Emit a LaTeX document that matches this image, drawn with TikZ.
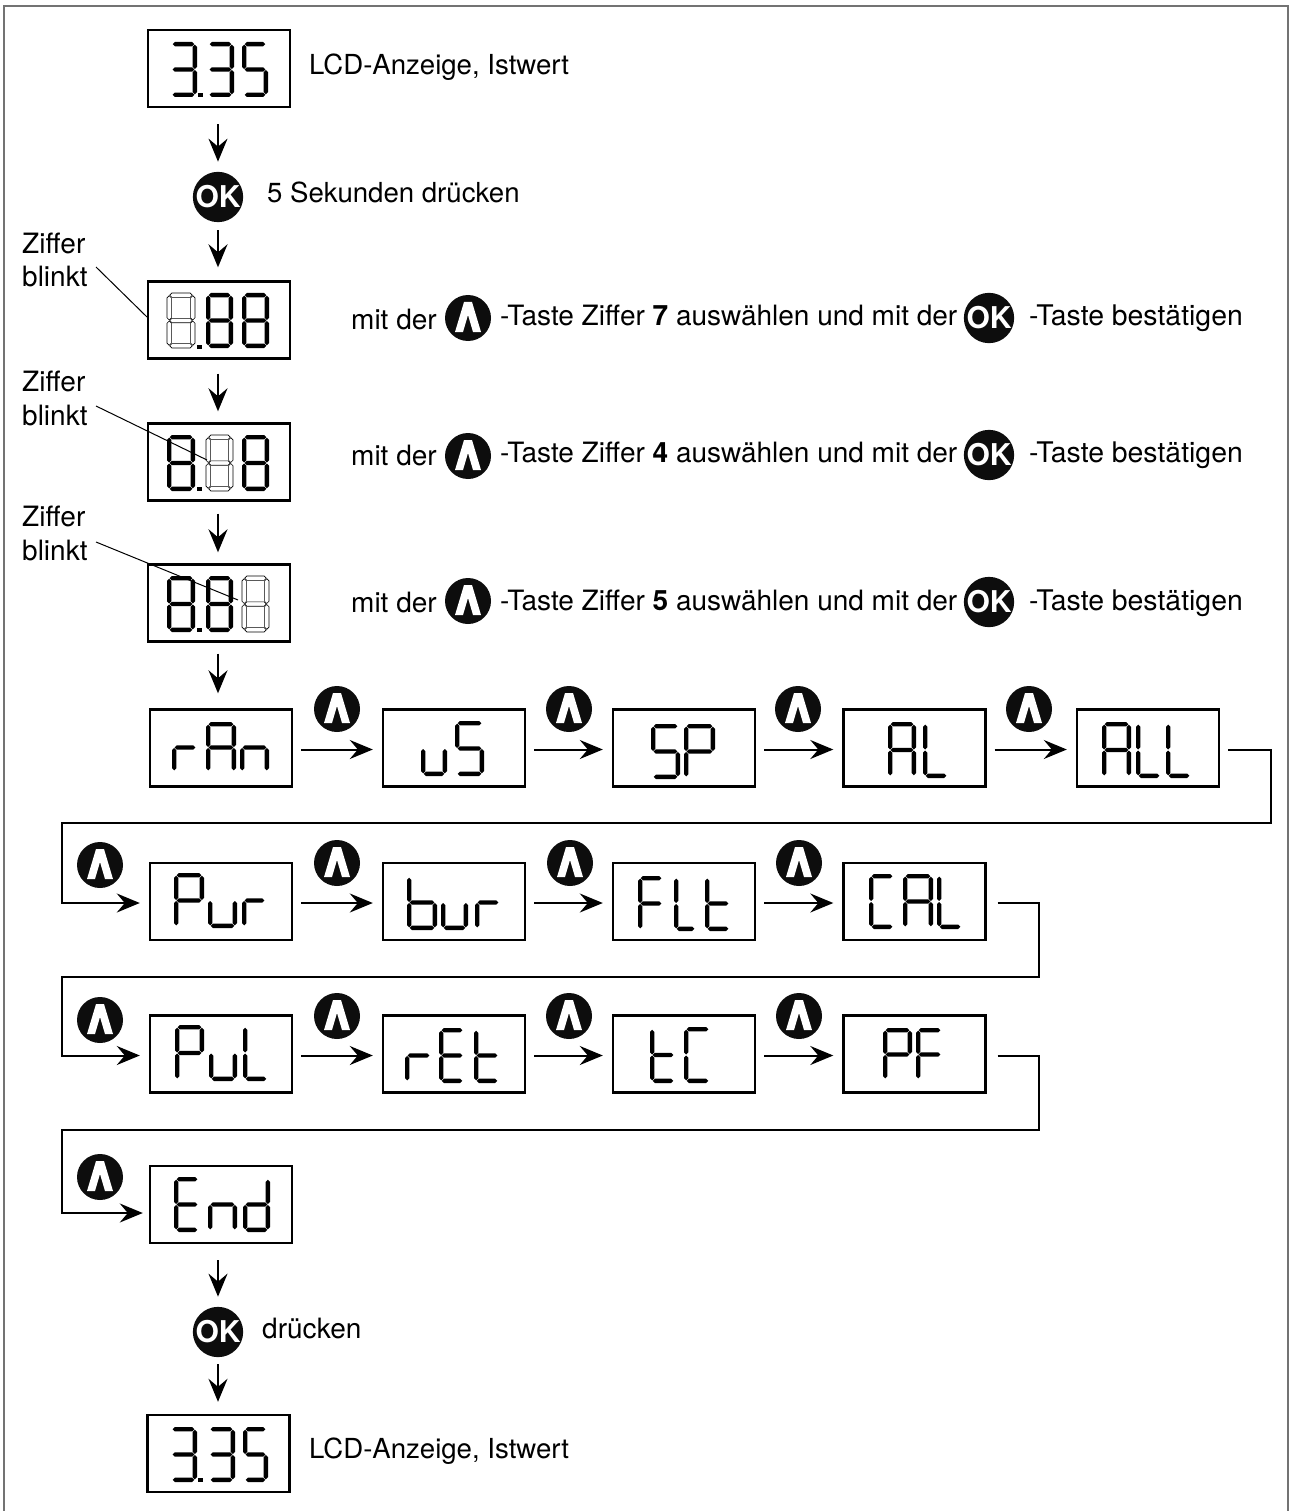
\documentclass[tikz,border=0pt]{standalone}
\usepackage{fontspec}
\setmainfont{TeX Gyre Heros}
\usetikzlibrary{arrows.meta}
\tikzset{
  lcdbox/.style={draw, line width=2.4pt, minimum width=142pt, minimum height=77pt, inner sep=0pt},
  lcdon/.style={fill=black},
  lcdoff/.style={draw=black, line width=0.6pt, fill=white},
  flow/.style={line width=2pt, -{Stealth[length=23pt,width=19pt,inset=8pt]}},
  leader/.style={line width=1pt},
  label/.style={inner sep=0pt, anchor=base west, font=\fontsize{28}{33.5}\selectfont},
  narrowlabel/.style={label, font=\fontsize{27.6}{33}\selectfont},
  widelabel/.style={label, font=\fontsize{28.4}{33}\selectfont},
  upkey/.style={circle, fill=black!95, minimum size=46pt, inner sep=0pt, path picture={
    \fill[white] ([shift={(-4,-16)}]path picture bounding box.center) -- ++(8,0) -- ++(9,30) -- ++(-8,0)
      -- ++(-5,-17) -- ++(-5,17) -- ++(-8,0) -- cycle;}},
  okkey/.style={circle, fill=black!95, text=white, minimum size=49pt, inner sep=0pt,
    font=\fontsize{30}{30}\selectfont\bfseries},
}
% one tapered segment of the display
\newcommand{\lcdsegh}[1]{\path (0.5,{#1}) -- (2.7,{#1-2.2}) -- ({\lcdw-2.7},{#1-2.2}) -- ({\lcdw-0.5},{#1})
  -- ({\lcdw-2.7},{#1+2.2}) -- (2.7,{#1+2.2}) -- cycle;}
\newcommand{\lcdsegv}[3]{\path ({#1},{#2+0.5}) -- ({#1+2.2},{#2+2.7}) -- ({#1+2.2},{#3-2.7}) -- ({#1},{#3-0.5})
  -- ({#1-2.2},{#3-2.7}) -- ({#1-2.2},{#2+2.7}) -- cycle;}
\newcommand{\lcdsega}{\lcdsegh{0}}
\newcommand{\lcdsegb}{\lcdsegv{\lcdw}{0}{\lcdh}}
\newcommand{\lcdsegc}{\lcdsegv{\lcdw}{\lcdh}{2*\lcdh}}
\newcommand{\lcdsegd}{\lcdsegh{2*\lcdh}}
\newcommand{\lcdsege}{\lcdsegv{0}{\lcdh}{2*\lcdh}}
\newcommand{\lcdsegf}{\lcdsegv{0}{0}{\lcdh}}
\newcommand{\lcdsegg}{\lcdsegh{\lcdh}}
% [style]{left}{right}{top}{bottom}{segments}
\newcommand{\lcdchar}[6][lcdon]{%
  \begin{scope}[shift={({#2+2.2},{#4+2.2})}, every path/.style={#1}]
    \pgfmathsetmacro\lcdw{#3-#2-4.4}
    \pgfmathsetmacro\lcdh{(#5-#4-4.4)/2}
    \foreach \s in {#6} {\csname lcdseg\s\endcsname}
  \end{scope}}
\newcommand{\lcddot}[2]{\fill (#1,#2) rectangle ++(5,4);}
\begin{document}
\begin{tikzpicture}[x=1pt, y=-1pt]
  \useasboundingbox (0,0) rectangle (1290,1511);
  \draw[line width=1.2pt, black!55] (4,1511) |- (1288,6) -- (1288,1511);

  % input sequence
  \node[lcdbox] (istA) at (219,68.5) {};
  \node[okkey] (okA) at (218,197) {OK};
  \node[lcdbox] (blinkA) at (219,320) {};
  \node[lcdbox] (blinkB) at (219,462) {};
  \node[lcdbox] (blinkC) at (219,603) {};
  \lcdchar{170}{197}{42}{97}{a,b,g,c,d}
  \lcddot{198}{93}
  \lcdchar{207}{234}{42}{97}{a,b,g,c,d}
  \lcdchar{242}{268}{42}{97}{a,f,g,c,d}
  \lcdchar[lcdoff]{167}{195}{293}{348}{a,b,c,d,e,f,g}
  \lcddot{197}{345}
  \lcdchar{206}{233}{293}{348}{a,b,c,d,e,f,g}
  \lcdchar{242}{269}{293}{348}{a,b,c,d,e,f,g}
  \lcdchar{167}{195}{435}{491}{a,b,c,d,e,f,g}
  \lcddot{197}{487}
  \lcdchar[lcdoff]{206}{233}{435}{491}{a,b,c,d,e,f,g}
  \lcdchar{242}{269}{435}{491}{a,b,c,d,e,f,g}
  \lcdchar{167}{195}{576}{632}{a,b,c,d,e,f,g}
  \lcddot{197}{628}
  \lcdchar{206}{233}{576}{632}{a,b,c,d,e,f,g}
  \lcdchar[lcdoff]{242}{269}{576}{632}{a,b,c,d,e,f,g}

  % menu, row one
  \node[lcdbox] (ran) at (221,748) {};
  \node[lcdbox] (us) at (454,748) {};
  \node[lcdbox] (sp) at (684,748) {};
  \node[lcdbox] (al) at (914.5,748) {};
  \node[lcdbox] (all) at (1148,748) {};
  \lcdchar{172}{198}{722}{773}{e,g}
  \lcdchar{206}{236}{722}{773}{a,b,c,e,f,g}
  \lcdchar{240}{269}{722}{773}{e,g,c}
  \lcdchar{421}{447}{721}{776}{e,d,c}
  \lcdchar{455}{484}{721}{776}{a,f,g,c,d}
  \lcdchar{651}{680}{724}{779}{a,f,g,c,d}
  \lcdchar{684}{715}{724}{779}{a,b,f,g,e}
  \lcdchar{888}{916}{722}{778}{a,b,c,e,f,g}
  \lcdchar{923}{949}{722}{778}{f,e,d}
  \lcdchar{1102}{1131}{722}{778}{a,b,c,e,f,g}
  \lcdchar{1136}{1162}{722}{778}{f,e,d}
  \lcdchar{1166}{1192}{722}{778}{f,e,d}

  % menu, row two
  \node[lcdbox] (pur) at (221,901.5) {};
  \node[lcdbox] (bur) at (454,901.5) {};
  \node[lcdbox] (flt) at (684,901.5) {};
  \node[lcdbox] (cal) at (914.5,901.5) {};
  \lcdchar{174}{204}{873}{928}{a,b,f,g,e}
  \lcdchar{208}{237}{873}{928}{e,d,c}
  \lcdchar{242}{267}{873}{928}{e,g}
  \lcdchar{407}{437}{875}{930}{f,e,d,c,g}
  \lcdchar{441}{468}{875}{930}{e,d,c}
  \lcdchar{475}{501}{875}{930}{e,g}
  \lcdchar{638}{664}{876}{931}{a,f,g,e}
  \lcdchar{674}{697}{876}{931}{f,e,d}
  \lcdchar{705}{731}{876}{931}{f,e,d,g}
  \lcdchar{869}{895}{874}{929}{a,f,e,d}
  \lcdchar{903}{933}{874}{929}{a,b,c,e,f,g}
  \lcdchar{937}{963}{874}{929}{f,e,d}

  % menu, row three
  \node[lcdbox] (pul) at (221,1054) {};
  \node[lcdbox] (ret) at (454,1054) {};
  \node[lcdbox] (tc) at (684,1054) {};
  \node[lcdbox] (pf) at (914.5,1054) {};
  \lcdchar{175}{204}{1025}{1081}{a,b,f,g,e}
  \lcdchar{209}{237}{1025}{1081}{e,d,c}
  \lcdchar{243}{269}{1025}{1081}{f,e,d}
  \lcdchar{405}{432}{1028}{1083}{e,g}
  \lcdchar{439}{465}{1028}{1083}{a,f,g,e,d}
  \lcdchar{474}{500}{1028}{1083}{f,e,d,g}
  \lcdchar{650}{676}{1027}{1083}{f,e,d,g}
  \lcdchar{684}{711}{1027}{1083}{a,f,e,d}
  \lcdchar{883}{912}{1028}{1081}{a,b,f,g,e}
  \lcdchar{916}{943}{1028}{1081}{a,f,g,e}

  % end of the menu
  \node[lcdbox] (end) at (221,1204.5) {};
  \node[okkey] (okB) at (218,1332) {OK};
  \node[lcdbox] (istB) at (218.5,1453.5) {};
  \lcdchar{174}{200}{1177}{1232}{a,f,g,e,d}
  \lcdchar{208}{237}{1177}{1232}{e,g,c}
  \lcdchar{243}{270}{1177}{1232}{b,c,d,e,g}
  \lcdchar{170}{197}{1427}{1482}{a,b,g,c,d}
  \lcddot{198}{1478}
  \lcdchar{208}{235}{1427}{1482}{a,b,g,c,d}
  \lcdchar{243}{268}{1427}{1482}{a,f,g,c,d}

  % keys
  \foreach \x/\y/\n in {337/709/upA, 569/709/upB, 798/709/upC, 1029/709/upD,
    100/865/upE, 337/863/upF, 570/863/upG, 799/863/upH,
    100/1020/upI, 337/1016/upJ, 569/1016/upK, 799/1016/upL, 100/1177/upM,
    468/318/upN, 468/456/upO, 468/601/upP}
    \node[upkey] (\n) at (\x,\y) {};
  \node[okkey] (okC) at (989,318) {OK};
  \node[okkey] (okD) at (989,455) {OK};
  \node[okkey] (okE) at (989,602) {OK};

  % vertical arrows
  \draw[flow, shorten <=16pt, shorten >=10pt] (istA.south -| okA) -- (okA);
  \draw[flow, shorten <=8pt, shorten >=13pt] (okA) -- (blinkA.north -| okA);
  \draw[flow, shorten <=14pt, shorten >=11pt] (blinkA.south -| okA) -- (blinkB.north -| okA);
  \draw[flow, shorten <=12pt, shorten >=11pt] (blinkB.south -| okA) -- (blinkC.north -| okA);
  \draw[flow, shorten <=11pt, shorten >=15pt] (blinkC.south -| okA) -- (ran.north -| okA);
  \draw[flow, shorten <=16pt, shorten >=10pt] (end.south -| okB) -- (okB);
  \draw[flow, shorten <=7pt, shorten >=12pt] (okB) -- (istB.north -| okB);

  % horizontal arrows
  \foreach \a/\b in {ran/us, us/sp, sp/al, al/all, pur/bur, bur/flt, flt/cal, pul/ret, ret/tc, tc/pf}
    \draw[flow, shorten <=8pt, shorten >=9pt] ([yshift=-1.5pt]\a.east) -- ([yshift=-1.5pt]\b.west);

  % return lines
  \coordinate (turnA) at (1271,823);
  \coordinate (turnB) at (62,823);
  \coordinate (turnC) at (1039,977);
  \coordinate (turnD) at (62,977);
  \coordinate (turnE) at (1039,1130);
  \coordinate (turnF) at (62,1130);
  \draw[flow, shorten <=8pt, shorten >=9pt] ([yshift=-1.5pt]all.east) -| (turnA) -- (turnB) |- ([yshift=-1.5pt]pur.west);
  \draw[flow, shorten <=11pt, shorten >=9pt] ([yshift=-1.5pt]cal.east) -| (turnC) -- (turnD) |- ([yshift=-1.5pt]pul.west);
  \draw[flow, shorten <=11pt, shorten >=6pt] ([yshift=-1.5pt]pf.east) -| (turnE) -- (turnF) |- ([yshift=-8.5pt]end.west);

  % labels
  \node[narrowlabel] (lblA) at (309,75) {LCD-Anzeige, Istwert};
  \node[narrowlabel] (lblB) at (267,203) {5 Sekunden drücken};
  \node[label] (lblC) at (262,1338) {drücken};
  \node[narrowlabel] (lblD) at (309,1458) {LCD-Anzeige, Istwert};
  \node[label] (mitA) at (351,329) {mit der};
  \node[label] (mitB) at (351,465) {mit der};
  \node[label] (mitC) at (351,612) {mit der};
  \node[label] (tasteA) at (500,326) {-Taste Ziffer \textbf{7} auswählen und mit der};
  \node[label] (tasteB) at (500,462) {-Taste Ziffer \textbf{4} auswählen und mit der};
  \node[label] (tasteC) at (500,610) {-Taste Ziffer \textbf{5} auswählen und mit der};
  \node[widelabel] (okayA) at (1029,326) {-Taste bestätigen};
  \node[widelabel] (okayB) at (1029,462) {-Taste bestätigen};
  \node[widelabel] (okayC) at (1029,610) {-Taste bestätigen};
  \node[label, align=left] (zifferA) at (22,287) {Ziffer\\blinkt};
  \node[label, align=left] (zifferB) at (22,425) {Ziffer\\blinkt};
  \node[label, align=left] (zifferC) at (22,560) {Ziffer\\blinkt};

  % leaders to the blinking digit
  \coordinate (fromA) at (96,267);
  \coordinate (toA) at (147,317);
  \coordinate (fromB) at (96,406);
  \coordinate (toB) at (207,460);
  \coordinate (fromC) at (96,542);
  \coordinate (toC) at (238,600);
  \draw[leader] (fromA) -- (toA);
  \draw[leader] (fromB) -- (toB);
  \draw[leader] (fromC) -- (toC);
\end{tikzpicture}
\end{document}
